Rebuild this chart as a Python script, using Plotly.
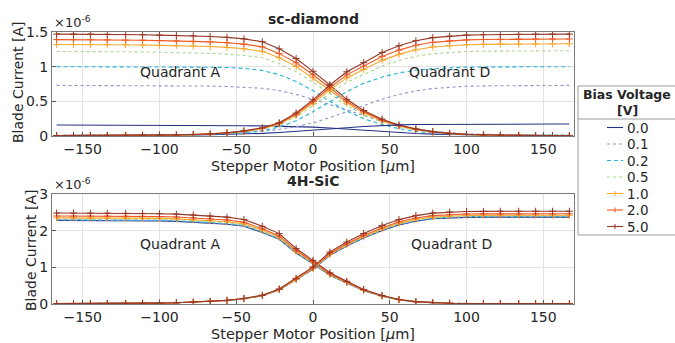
import plotly.graph_objects as go

positions = [-167, -156, -145, -134, -122, -111, -100, -89, -78, -67, -56, -45, -33, -22, -11, 0,
             11, 22, 33, 45, 56, 67, 78, 89, 100, 111, 122, 134, 145, 156, 167]

biases = ["0.0", "0.1", "0.2", "0.5", "1.0", "2.0", "5.0"]

# sc-diamond, units of 1e-6 A
dia_A_00 = [0.158, 0.158, 0.157, 0.157, 0.156, 0.156, 0.155, 0.154, 0.153, 0.152, 0.15, 0.148, 0.146, 0.142, 0.137, 0.128, 0.115, 0.098, 0.08, 0.062, 0.047, 0.036, 0.027, 0.021, 0.016, 0.013, 0.011, 0.009, 0.008, 0.007, 0.007]
dia_D_00 = [0.005, 0.005, 0.006, 0.006, 0.007, 0.008, 0.01, 0.012, 0.015, 0.019, 0.024, 0.03, 0.038, 0.05, 0.065, 0.082, 0.1, 0.12, 0.138, 0.152, 0.16, 0.165, 0.167, 0.168, 0.169, 0.17, 0.17, 0.171, 0.171, 0.172, 0.172]
dia_A_01 = [0.73, 0.73, 0.73, 0.73, 0.729, 0.728, 0.727, 0.726, 0.724, 0.72, 0.715, 0.705, 0.688, 0.655, 0.6, 0.53, 0.45, 0.37, 0.29, 0.21, 0.145, 0.098, 0.066, 0.045, 0.032, 0.024, 0.019, 0.016, 0.014, 0.013, 0.012]
dia_D_01 = [0.01, 0.01, 0.011, 0.012, 0.013, 0.015, 0.017, 0.02, 0.024, 0.03, 0.038, 0.05, 0.068, 0.095, 0.135, 0.19, 0.265, 0.35, 0.44, 0.53, 0.6, 0.65, 0.685, 0.705, 0.717, 0.723, 0.726, 0.728, 0.73, 0.73, 0.73]
dia_A_02 = [1.0, 1.0, 1.0, 1.0, 0.999, 0.998, 0.997, 0.996, 0.994, 0.992, 0.988, 0.975, 0.945, 0.885, 0.785, 0.655, 0.5, 0.36, 0.25, 0.165, 0.105, 0.068, 0.044, 0.03, 0.021, 0.016, 0.013, 0.011, 0.01, 0.009, 0.009]
dia_D_02 = [0.008, 0.008, 0.009, 0.009, 0.01, 0.011, 0.013, 0.015, 0.019, 0.024, 0.032, 0.047, 0.075, 0.13, 0.22, 0.35, 0.5, 0.64, 0.76, 0.85, 0.91, 0.948, 0.972, 0.986, 0.993, 0.996, 0.998, 0.999, 1.0, 1.0, 1.0]
dia_A_05 = [1.22, 1.22, 1.22, 1.218, 1.215, 1.213, 1.208, 1.204, 1.199, 1.192, 1.181, 1.163, 1.129, 1.043, 0.927, 0.775, 0.61, 0.439, 0.305, 0.201, 0.132, 0.085, 0.052, 0.032, 0.02, 0.013, 0.01, 0.007, 0.006, 0.005, 0.005]
dia_D_05 = [0.005, 0.005, 0.006, 0.006, 0.007, 0.009, 0.011, 0.014, 0.018, 0.025, 0.039, 0.062, 0.098, 0.16, 0.277, 0.437, 0.615, 0.775, 0.886, 1.009, 1.089, 1.15, 1.187, 1.205, 1.218, 1.223, 1.225, 1.228, 1.23, 1.23, 1.23]
dia_A_10 = [1.32, 1.32, 1.32, 1.317, 1.315, 1.312, 1.307, 1.303, 1.298, 1.29, 1.278, 1.258, 1.221, 1.129, 1.003, 0.838, 0.66, 0.475, 0.33, 0.218, 0.143, 0.092, 0.057, 0.034, 0.021, 0.015, 0.011, 0.008, 0.007, 0.005, 0.005]
dia_D_10 = [0.005, 0.005, 0.007, 0.007, 0.008, 0.009, 0.012, 0.015, 0.02, 0.027, 0.043, 0.067, 0.106, 0.173, 0.299, 0.472, 0.665, 0.838, 0.958, 1.091, 1.177, 1.244, 1.283, 1.303, 1.317, 1.322, 1.325, 1.327, 1.33, 1.33, 1.33]
dia_A_20 = [1.39, 1.39, 1.39, 1.387, 1.384, 1.382, 1.376, 1.372, 1.366, 1.358, 1.346, 1.325, 1.286, 1.188, 1.056, 0.883, 0.695, 0.5, 0.348, 0.229, 0.15, 0.097, 0.06, 0.036, 0.022, 0.015, 0.011, 0.008, 0.007, 0.006, 0.006]
dia_D_20 = [0.006, 0.006, 0.007, 0.007, 0.008, 0.01, 0.013, 0.015, 0.021, 0.028, 0.045, 0.07, 0.112, 0.182, 0.315, 0.497, 0.7, 0.882, 1.008, 1.148, 1.239, 1.309, 1.351, 1.372, 1.386, 1.392, 1.394, 1.397, 1.4, 1.4, 1.4]
dia_A_50 = [1.47, 1.47, 1.47, 1.467, 1.464, 1.461, 1.455, 1.451, 1.445, 1.436, 1.423, 1.401, 1.36, 1.257, 1.117, 0.933, 0.735, 0.529, 0.368, 0.243, 0.159, 0.103, 0.063, 0.038, 0.024, 0.016, 0.012, 0.009, 0.007, 0.006, 0.006]
dia_D_50 = [0.006, 0.006, 0.007, 0.007, 0.009, 0.01, 0.013, 0.016, 0.022, 0.029, 0.047, 0.074, 0.118, 0.191, 0.331, 0.522, 0.735, 0.926, 1.058, 1.205, 1.301, 1.374, 1.419, 1.441, 1.455, 1.461, 1.464, 1.467, 1.47, 1.47, 1.47]

# 4H-SiC, units of 1e-6 A
sic_A_00 = [2.28, 2.28, 2.28, 2.278, 2.275, 2.271, 2.264, 2.253, 2.232, 2.207, 2.177, 2.12, 1.949, 1.765, 1.391, 1.094, 0.782, 0.57, 0.365, 0.212, 0.114, 0.059, 0.032, 0.021, 0.014, 0.011, 0.011, 0.009, 0.009, 0.009, 0.009]
sic_D_00 = [0.009, 0.009, 0.012, 0.012, 0.014, 0.019, 0.024, 0.033, 0.047, 0.066, 0.095, 0.142, 0.225, 0.384, 0.656, 0.948, 1.327, 1.583, 1.801, 2.005, 2.157, 2.259, 2.323, 2.351, 2.363, 2.368, 2.37, 2.37, 2.37, 2.37, 2.37]
sic_A_01 = [2.29, 2.29, 2.29, 2.288, 2.285, 2.281, 2.274, 2.263, 2.242, 2.217, 2.187, 2.13, 1.958, 1.772, 1.397, 1.099, 0.785, 0.573, 0.366, 0.213, 0.115, 0.06, 0.032, 0.021, 0.014, 0.011, 0.011, 0.009, 0.009, 0.009, 0.009]
sic_D_01 = [0.01, 0.01, 0.012, 0.012, 0.014, 0.019, 0.024, 0.033, 0.048, 0.067, 0.095, 0.143, 0.226, 0.386, 0.659, 0.952, 1.333, 1.59, 1.809, 2.013, 2.166, 2.268, 2.332, 2.361, 2.373, 2.378, 2.38, 2.38, 2.38, 2.38, 2.38]
sic_A_02 = [2.30, 2.30, 2.30, 2.298, 2.295, 2.291, 2.284, 2.272, 2.252, 2.226, 2.197, 2.139, 1.967, 1.78, 1.403, 1.104, 0.789, 0.575, 0.368, 0.214, 0.115, 0.06, 0.032, 0.021, 0.014, 0.012, 0.012, 0.009, 0.009, 0.009, 0.009]
sic_D_02 = [0.01, 0.01, 0.012, 0.012, 0.014, 0.019, 0.024, 0.033, 0.048, 0.067, 0.096, 0.143, 0.227, 0.387, 0.662, 0.956, 1.338, 1.597, 1.816, 2.022, 2.175, 2.278, 2.342, 2.371, 2.383, 2.388, 2.39, 2.39, 2.39, 2.39, 2.39]
sic_A_05 = [2.32, 2.32, 2.32, 2.318, 2.315, 2.311, 2.304, 2.292, 2.271, 2.246, 2.216, 2.158, 1.984, 1.796, 1.415, 1.114, 0.796, 0.58, 0.371, 0.216, 0.116, 0.06, 0.032, 0.021, 0.014, 0.012, 0.012, 0.009, 0.009, 0.009, 0.009]
sic_D_05 = [0.01, 0.01, 0.012, 0.012, 0.014, 0.019, 0.024, 0.034, 0.048, 0.067, 0.096, 0.144, 0.228, 0.389, 0.665, 0.96, 1.344, 1.603, 1.824, 2.03, 2.184, 2.287, 2.352, 2.381, 2.393, 2.398, 2.40, 2.40, 2.40, 2.40, 2.40]
sic_A_10 = [2.35, 2.35, 2.35, 2.348, 2.345, 2.341, 2.334, 2.322, 2.301, 2.275, 2.244, 2.186, 2.009, 1.819, 1.434, 1.128, 0.806, 0.588, 0.376, 0.219, 0.118, 0.061, 0.033, 0.021, 0.014, 0.012, 0.012, 0.009, 0.009, 0.009, 0.009]
sic_D_10 = [0.01, 0.01, 0.012, 0.012, 0.015, 0.019, 0.024, 0.034, 0.048, 0.068, 0.097, 0.145, 0.23, 0.392, 0.67, 0.968, 1.355, 1.617, 1.839, 2.047, 2.202, 2.306, 2.372, 2.401, 2.413, 2.418, 2.42, 2.42, 2.42, 2.42, 2.42]
sic_A_20 = [2.40, 2.40, 2.40, 2.398, 2.395, 2.39, 2.383, 2.371, 2.35, 2.323, 2.292, 2.232, 2.052, 1.858, 1.464, 1.152, 0.823, 0.6, 0.384, 0.223, 0.12, 0.062, 0.034, 0.022, 0.014, 0.012, 0.012, 0.01, 0.01, 0.01, 0.01]
sic_D_20 = [0.01, 0.01, 0.012, 0.012, 0.015, 0.02, 0.025, 0.034, 0.049, 0.069, 0.098, 0.148, 0.234, 0.399, 0.681, 0.984, 1.378, 1.643, 1.87, 2.081, 2.239, 2.344, 2.411, 2.44, 2.453, 2.458, 2.46, 2.46, 2.46, 2.46, 2.46]
sic_A_50 = [2.48, 2.48, 2.48, 2.478, 2.475, 2.47, 2.463, 2.45, 2.428, 2.401, 2.368, 2.306, 2.12, 1.92, 1.513, 1.19, 0.851, 0.62, 0.397, 0.231, 0.124, 0.064, 0.035, 0.022, 0.015, 0.012, 0.012, 0.01, 0.01, 0.01, 0.01]
sic_D_50 = [0.01, 0.01, 0.013, 0.013, 0.015, 0.02, 0.025, 0.035, 0.051, 0.071, 0.101, 0.152, 0.24, 0.41, 0.701, 1.012, 1.417, 1.69, 1.923, 2.14, 2.302, 2.411, 2.479, 2.51, 2.522, 2.527, 2.53, 2.53, 2.53, 2.53, 2.53]

dia_A = [dia_A_00, dia_A_01, dia_A_02, dia_A_05, dia_A_10, dia_A_20, dia_A_50]
dia_D = [dia_D_00, dia_D_01, dia_D_02, dia_D_05, dia_D_10, dia_D_20, dia_D_50]
sic_A = [sic_A_00, sic_A_01, sic_A_02, sic_A_05, sic_A_10, sic_A_20, sic_A_50]
sic_D = [sic_D_00, sic_D_01, sic_D_02, sic_D_05, sic_D_10, sic_D_20, sic_D_50]

colors = ["#262f86", "#8a93cc", "#1fb3d9", "#a5d68c", "#f6a92e", "#f05a22", "#953727"]
dashes = ["solid", "dot", "4px,3px", "dot", "solid", "solid", "solid"]
has_marker = [False, False, False, False, True, True, True]

FONT = "DejaVu Sans"
W, H = 675, 343
ML, MR, MT, MB = 52, 101, 32, 39
PW, PH = W - ML - MR, H - MT - MB

def px_x(px):
    return (px - ML) / PW

def px_y(py):
    return (H - MB - py) / PH

fig = go.Figure()

def add_curves(ydata_list, xa, ya):
    for i, b in enumerate(biases):
        mode = "lines+markers" if has_marker[i] else "lines"
        fig.add_trace(go.Scatter(
            x=positions, y=ydata_list[i], mode=mode, name=b, showlegend=False,
            line=dict(color=colors[i], width=1.1, dash=dashes[i]),
            marker=dict(symbol="cross-thin", size=5, line=dict(color=colors[i], width=1)),
            xaxis=xa, yaxis=ya, hoverinfo="skip"))

for arr_list in (dia_A, dia_D):
    add_curves(arr_list, "x", "y")
for arr_list in (sic_A, sic_D):
    add_curves(arr_list, "x2", "y2")

axis_common = dict(showgrid=True, gridcolor="#e3e3e3", gridwidth=1, zeroline=False,
                   showline=True, linecolor="#7a7a7a", linewidth=1, mirror=True,
                   ticks="inside", ticklen=4, tickcolor="#555555", automargin=False,
                   tickfont=dict(family=FONT, size=14, color="#262626"))

TOP_BOT, BOT_TOP = 136, 194
xt = [-150, -100, -50, 0, 50, 100, 150]
fig.update_layout(
    width=W, height=H,
    margin=dict(l=ML, r=MR, t=MT, b=MB, autoexpand=False),
    paper_bgcolor="white", plot_bgcolor="white",
    font=dict(family=FONT, color="#262626"),
    showlegend=False,
    xaxis=dict(domain=[0, 1], anchor="y", range=[-170, 170], tickvals=xt, **axis_common),
    yaxis=dict(domain=[px_y(TOP_BOT), 1.0], anchor="x", range=[0, 1.5], tickvals=[0, 0.5, 1, 1.5],
               ticktext=["0", "0.5", "1", "1.5"], **axis_common),
    xaxis2=dict(domain=[0, 1], anchor="y2", range=[-170, 170], tickvals=xt, **axis_common),
    yaxis2=dict(domain=[0, px_y(BOT_TOP)], anchor="x2", range=[0, 3], tickvals=[0, 1, 2, 3],
                **axis_common),
)

annots = [
    dict(text="<b>sc-diamond</b>", x=0.5, y=1.0, xref="paper", yref="paper", yshift=3,
         yanchor="bottom", showarrow=False, font=dict(size=14)),
    dict(text="<b>4H-SiC</b>", x=0.5, y=px_y(BOT_TOP), xref="paper", yref="paper", yshift=3,
         yanchor="bottom", showarrow=False, font=dict(size=14)),
    dict(text="×10<sup>-6</sup>", x=0, y=1.0, xref="paper", yref="paper", xanchor="left",
         yanchor="bottom", showarrow=False, font=dict(size=13)),
    dict(text="×10<sup>-6</sup>", x=0, y=px_y(BOT_TOP), xref="paper", yref="paper", xanchor="left",
         yanchor="bottom", showarrow=False, font=dict(size=13)),
    dict(text="Blade Current [A]", x=px_x(18), y=px_y(82), xref="paper", yref="paper",
         textangle=-90, showarrow=False, font=dict(size=14), xanchor="center", yanchor="middle"),
    dict(text="Blade Current [A]", x=px_x(31), y=px_y(250), xref="paper", yref="paper",
         textangle=-90, showarrow=False, font=dict(size=14), xanchor="center", yanchor="middle"),
    dict(text="Stepper Motor Position [<i>μ</i>m]", x=0.5, y=px_y(157), xref="paper", yref="paper",
         showarrow=False, font=dict(size=14.5), xanchor="center", yanchor="top", borderpad=0),
    dict(text="Stepper Motor Position [<i>μ</i>m]", x=0.5, y=px_y(325), xref="paper", yref="paper",
         showarrow=False, font=dict(size=14.5), xanchor="center", yanchor="top", borderpad=0),
    dict(text="Quadrant A", x=-86, y=0.93, xref="x", yref="y", showarrow=False, font=dict(size=14)),
    dict(text="Quadrant D", x=89, y=0.93, xref="x", yref="y", showarrow=False, font=dict(size=14)),
    dict(text="Quadrant A", x=-86, y=1.64, xref="x2", yref="y2", showarrow=False, font=dict(size=14)),
    dict(text="Quadrant D", x=90, y=1.64, xref="x2", yref="y2", showarrow=False, font=dict(size=14)),
]

# custom legend (box, title, separator, entries)
shapes = []
LX0, LX1, LY0, LY1 = 578, 690, 86, 235
shapes.append(dict(type="rect", xref="paper", yref="paper", x0=px_x(LX0), x1=px_x(LX1),
                   y0=px_y(LY1), y1=px_y(LY0), line=dict(color="#9a9a9a", width=1),
                   fillcolor="white", layer="above"))
shapes.append(dict(type="line", xref="paper", yref="paper", x0=px_x(LX0), x1=px_x(LX1),
                   y0=px_y(119), y1=px_y(119), line=dict(color="#9a9a9a", width=1), layer="above"))
annots.append(dict(text="<b>Bias Voltage</b>", x=px_x(627), y=px_y(95), xref="paper", yref="paper",
                   showarrow=False, font=dict(size=12.5), xanchor="center", yanchor="middle"))
annots.append(dict(text="<b>[V]</b>", x=px_x(627), y=px_y(111), xref="paper", yref="paper",
                   showarrow=False, font=dict(size=12.5), xanchor="center", yanchor="middle"))
for i, b in enumerate(biases):
    ry = 127.5 + 16.5 * i
    shapes.append(dict(type="line", xref="paper", yref="paper", x0=px_x(607), x1=px_x(623),
                       y0=px_y(ry), y1=px_y(ry),
                       line=dict(color=colors[i], width=1.1, dash=dashes[i]), layer="above"))
    if has_marker[i]:
        shapes.append(dict(type="line", xref="paper", yref="paper", x0=px_x(615), x1=px_x(615),
                           y0=px_y(ry - 2.5), y1=px_y(ry + 2.5),
                           line=dict(color=colors[i], width=1), layer="above"))
    annots.append(dict(text=b, x=px_x(625), y=px_y(ry), xref="paper", yref="paper",
                       showarrow=False, font=dict(size=13.5), xanchor="left", yanchor="middle"))

fig.update_layout(annotations=annots, shapes=shapes)

fig.write_html("out.html")
